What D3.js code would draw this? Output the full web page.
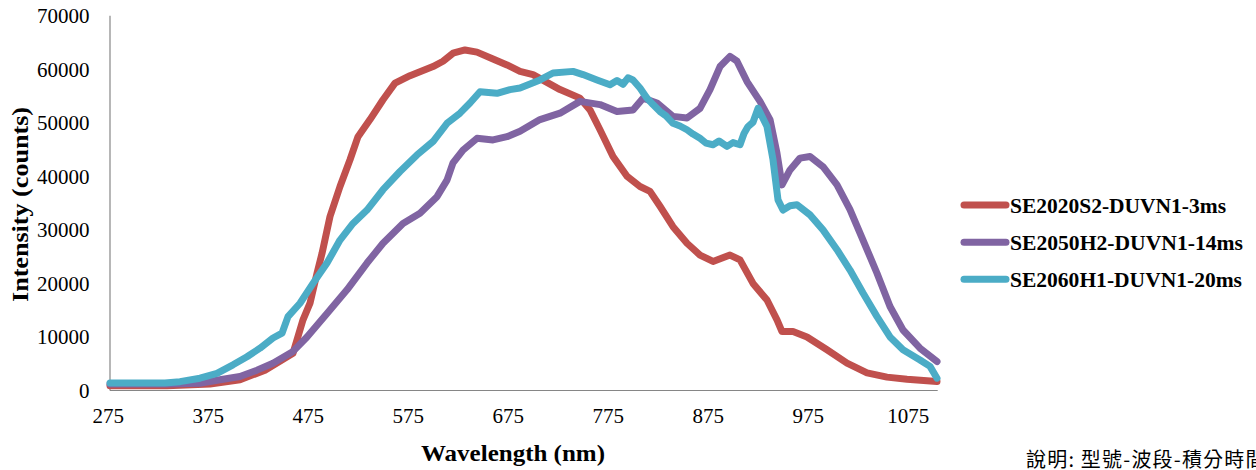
<!DOCTYPE html>
<html><head><meta charset="utf-8">
<script src="https://cdn.jsdelivr.net/npm/d3@7/dist/d3.min.js"></script>
<style>
html,body{margin:0;padding:0;background:#fff;overflow:hidden;}
svg{display:block;}
</style></head>
<body><svg id="chart" width="1256" height="470"></svg>
<script>
// ---- data ----
const seriesNames = ["SE2020S2-DUVN1-3ms", "SE2050H2-DUVN1-14ms", "SE2060H1-DUVN1-20ms"];
const seriesColors = ["#C0504D", "#8064A2", "#4BACC6"];
const xTicks = [275, 375, 475, 575, 675, 775, 875, 975, 1075];
const yTicks = [0, 10000, 20000, 30000, 40000, 50000, 60000, 70000];

const redNm  = [275, 300, 332, 375, 405, 430, 458, 468, 475, 482, 487, 495, 505, 515, 523, 535, 548, 560, 575, 598, 608, 618, 630, 642, 658, 672, 685, 698, 725, 745, 755, 765, 778, 792, 805, 815, 825, 838, 852, 865, 878, 895, 905, 918, 932, 942, 947, 958, 972, 992, 1012, 1032, 1052, 1072, 1102];
const redVal = [900, 900, 900, 1200, 2000, 3800, 6950, 13200, 16300, 21900, 25600, 32500, 38100, 43100, 47400, 50600, 54300, 57400, 58800, 60500, 61500, 63000, 63600, 63200, 61900, 60800, 59600, 59000, 56200, 54600, 52400, 48700, 43700, 40000, 38100, 37200, 34400, 30600, 27500, 25300, 24100, 25300, 24400, 20000, 16900, 13200, 11000, 11000, 10000, 7600, 5100, 3300, 2500, 2100, 1700];

const purNm  = [275, 330, 365, 385, 405, 422, 438, 458, 472, 492, 512, 532, 548, 568, 585, 602, 612, 618, 628, 642, 658, 672, 685, 705, 725, 745, 765, 782, 798, 808, 822, 838, 852, 865, 875, 885, 895, 902, 912, 925, 935, 942, 947, 955, 965, 975, 988, 1002, 1015, 1028, 1042, 1055, 1068, 1085, 1102];
const purVal = [1200, 1200, 1350, 2000, 2600, 3800, 5100, 7300, 10000, 14400, 18800, 23800, 27500, 31200, 33100, 36200, 39300, 42500, 44900, 47100, 46800, 47400, 48400, 50600, 51800, 54000, 53400, 52100, 52400, 54600, 53700, 51200, 50900, 52700, 56200, 60500, 62400, 61500, 57700, 54000, 50600, 44300, 38400, 41200, 43400, 43700, 41800, 38400, 33800, 28100, 21900, 15700, 11300, 7900, 5400];

const cyaNm  = [275, 330, 345, 365, 382, 398, 412, 425, 438, 447, 453, 465, 478, 492, 505, 518, 532, 548, 565, 582, 598, 612, 625, 635, 645, 662, 675, 685, 705, 718, 738, 748, 762, 775, 782, 788, 793, 798, 805, 812, 818, 825, 831, 838, 845, 852, 858, 865, 871, 878, 884, 892, 898, 905, 909, 913, 918, 923, 932, 938, 943, 948, 955, 962, 975, 988, 1002, 1015, 1028, 1042, 1055, 1068, 1085, 1095, 1102];
const cyaVal = [1400, 1400, 1650, 2300, 3200, 4800, 6300, 7900, 9800, 10700, 13800, 16300, 20000, 23800, 28100, 31200, 33700, 37500, 40900, 44000, 46500, 49900, 51800, 53700, 55800, 55500, 56200, 56500, 58000, 59300, 59600, 59000, 58000, 57100, 57900, 57200, 58400, 58000, 56500, 54600, 53400, 52100, 51300, 49900, 49400, 48700, 47900, 47100, 46200, 45900, 46600, 45600, 46300, 45900, 48000, 49300, 50100, 52700, 49300, 43100, 35600, 33700, 34500, 34700, 32800, 30000, 26300, 22500, 18200, 13800, 10000, 7600, 5700, 4500, 2300];

const seriesData = [
  redNm.map((d, i) => [d, redVal[i]]),
  purNm.map((d, i) => [d, purVal[i]]),
  cyaNm.map((d, i) => [d, cyaVal[i]])
];

// ---- chart ----
const svg = d3.select("#chart");
const x = d3.scaleLinear().domain([275, 1102.7]).range([110, 937.7]);
const y = d3.scaleLinear().domain([0, 70000]).range([390.5, 15.7]);

// axes lines
svg.append("line").attr("x1", 110).attr("x2", 110).attr("y1", y(70000)).attr("y2", y(0))
  .attr("stroke", "#868686").attr("stroke-width", 1.2);
svg.append("line").attr("x1", 110).attr("x2", x.range()[1]).attr("y1", y(0)).attr("y2", y(0))
  .attr("stroke", "#868686").attr("stroke-width", 1.2);

const serif = "'Liberation Serif', 'Times New Roman', serif";

// y tick labels
svg.append("g").selectAll("text").data(yTicks).join("text")
  .attr("x", 89.5).attr("y", d => y(d)).attr("dy", "0.35em")
  .attr("text-anchor", "end").attr("font-family", serif).attr("font-size", 21).attr("fill", "#000")
  .text(d => d);

// x tick labels
svg.append("g").selectAll("text").data(xTicks).join("text")
  .attr("x", d => x(d) - 1.7).attr("y", 416).attr("dy", "0.35em")
  .attr("text-anchor", "middle").attr("font-family", serif).attr("font-size", 21).attr("fill", "#000")
  .text(d => d);

// axis titles
svg.append("text").attr("transform", "translate(28,204.5) rotate(-90)")
  .attr("text-anchor", "middle").attr("font-family", serif).attr("font-size", 23).attr("font-weight", "bold")
  .attr("textLength", 195).attr("lengthAdjust", "spacingAndGlyphs")
  .text("Intensity (counts)");
svg.append("text").attr("x", 513).attr("y", 453).attr("dy", "0.35em")
  .attr("text-anchor", "middle").attr("font-family", serif).attr("font-size", 23).attr("font-weight", "bold")
  .attr("textLength", 184).attr("lengthAdjust", "spacingAndGlyphs")
  .text("Wavelength (nm)");

// lines
const line = d3.line().x(d => x(d[0])).y(d => y(d[1]));
svg.append("g").selectAll("path").data(seriesData).join("path")
  .attr("d", line).attr("fill", "none")
  .attr("stroke", (d, i) => seriesColors[i]).attr("stroke-width", 7)
  .attr("stroke-linejoin", "round").attr("stroke-linecap", "round");

// legend
const legY = [205, 242.3, 279.3];
const legW = [216, 233, 232];
const leg = svg.append("g").selectAll("g").data(seriesNames).join("g")
  .attr("transform", (d, i) => `translate(0,${legY[i]})`);
leg.append("line").attr("x1", 964).attr("x2", 1006).attr("y1", 0).attr("y2", 0)
  .attr("stroke", (d, i) => seriesColors[i]).attr("stroke-width", 7).attr("stroke-linecap", "round");
leg.append("text").attr("x", 1010).attr("y", 0).attr("dy", "0.35em")
  .attr("font-family", serif).attr("font-size", 22).attr("font-weight", "bold").attr("fill", "#000")
  .attr("textLength", (d, i) => legW[i]).attr("lengthAdjust", "spacingAndGlyphs")
  .text(d => d);

// note (cut at the right edge as in the reference)
svg.append("text").attr("x", 1026).attr("y", 467)
  .attr("font-family", "'Noto Sans CJK TC', 'Noto Sans CJK SC', sans-serif").attr("font-size", 20)
  .attr("letter-spacing", 1.2).attr("fill", "#000")
  .text("說明: 型號-波段-積分時間");
</script></body></html>
